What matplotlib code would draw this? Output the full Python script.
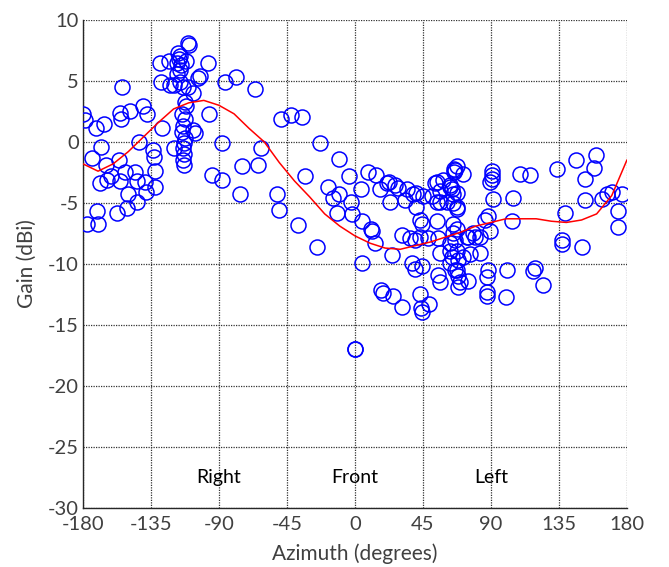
import matplotlib
matplotlib.use("Agg")
import matplotlib.pyplot as plt
import numpy as np

# Measured gain samples (azimuth in degrees, gain in dBi)
azimuth = [
    -180, -178.7, -171.6, -165.9, -167.9, -174.3,
    -154.0, -155.8, -154.8, -148.9, -140.3, -137.6, -142.9,
    -156, -165, -161.5, -164.3, -169, -155.5, -152.5,
    -145.5, -144, -138.7, -132, -132, -133.4, -132.7,
    -150, -138, -144.5, -151, -157.7, -170.9, -169.8, -177.4,
    -129, -123.3, -128.6, -122.4, -119.6, -117, -115.8, -116.5, -115.4, -116, -117.5,
    -110.3, -109.6, -111.5, -118,
    -116, -113.6, -110.8, -107, -104, -102.6, -97,
    -112.5, -111.8, -114.7, -112.5, -113.6, -114.2, -112.5, -107, -105.9,
    -113.2, -113.6, -112.9, -113.6, -113, -119.6, -127.5,
    -96.5, -88, -75, -62.4, -64, -94.7, -88, -76.1,
    -86, -78.8, -66.4,
    -48.8, -42.4, -34.9, -23.2, -10.2, -33.1, -3.8, 8.8, 13.9,
    -17.5, -51.3, -14.3, -10.8, -2.3, 3.8, -50.2, -37.5, -25.4, -11.6, -2.2,
    4.4, 10.4, 11.1, 13.2, 4.4,
    16.5, 21, 22.5, 26.5, 28.7, 34.2, 23.2, 33.1,
    38.6, 40.6, 45.3, 50.8, 54.1, 56.3, 56.3, 60.7, 40.6, 43, 44.1, 54.1,
    65.5, 66.2, 65.8, 67.3, 71.7, 58.4, 53, 62.9, 64, 62.9, 67.3, 65.1, 65.1, 67.3, 54.1, 67.3,
    90.5, 90.5, 90.5, 89.6, 91.6, 104.4, 109.2, 116.2, 133.6, 146.6, 159.5, 158.4,
    152.2, 152.2, 139.2, 163.3, 166.6, 169.9, 176.5, 174.3, 174.3, 136.8, 136.8, 150,
    88.3, 86, 89.3, 104.2,
    65.1, 67.3, 65.1, 66.2, 75, 79.4, 82.7, 76.1, 67.3, 68.4,
    88.3, 87.2, 100.7, 119.1, 118, 124.6, 87.2, 87.2, 99.9,
    67.3, 68.4, 69.5, 68.4, 75,
    30.9, 36.4, 39.7, 43, 48.5, 55.2,
    24.3, 37.5, 39.7, 44.1,
    62.9, 62.9, 64, 62.9, 66.2,
    55.2, 56.3, 56.3,
    17.5, 18.5, 25.4, 31.2, 43, 44, 44.1, 49,
    73.9, 71.7, 78.3, 82.7,
    0, 0,
]
gain = [
    2.3, 1.8, 1.1, 1.5, -0.4, -1.3,
    4.5, 2.4, 1.9, 2.5, 2.9, 2.3, 0.0,
    -1.5, -1.9, -2.8, -3.1, -3.4, -3.2, -2.5,
    -2.5, -3.2, -3.3, -2.4, -3.7, -0.7, -1.2,
    -4.3, -4.1, -4.9, -5.4, -5.8, -5.7, -6.7, -6.7,
    6.5, 6.6, 4.9, 4.7, 4.7, 7.3, 7.0, 6.8, 6.3, 5.9, 5.6,
    8.1, 7.9, 6.6, 6.5,
    4.9, 4.5, 4.5, 4.0, 5.2, 5.4, 6.5,
    3.3, 2.9, 2.3, 1.9, 1.3, 0.8, 0.3, 1.0, 0.7,
    -0.1, -0.5, -1.0, -1.5, -1.9, -0.5, 1.1,
    2.3, -0.1, -2.0, -0.5, -1.9, -2.7, -3.1, -4.3,
    4.9, 5.3, 4.3,
    1.9, 2.2, 2.0, -0.1, -1.4, -2.8, -2.8, -2.5, -2.7,
    -3.7, -4.3, -4.6, -4.3, -4.9, -3.9, -5.6, -6.8, -8.6, -5.8, -5.9,
    -6.5, -7.1, -7.3, -8.3, -9.9,
    -3.9, -3.4, -3.3, -3.5, -3.8, -3.9, -4.9, -4.8,
    -4.3, -4.2, -4.4, -4.4, -3.3, -4.0, -4.9, -4.9, -5.3, -6.4, -6.7, -6.5,
    -2.2, -2.3, -2.5, -2.0, -2.6, -3.1, -3.4, -3.5, -3.9, -3.7, -4.2, -4.3, -5.0, -5.5, -4.9, -5.3,
    -2.4, -2.7, -3.0, -3.3, -4.7, -4.6, -2.6, -2.7, -2.2, -1.5, -1.1, -2.1,
    -3.0, -4.8, -5.8, -4.7, -4.3, -4.1, -4.3, -5.7, -7.0, -8.0, -8.4, -8.6,
    -6.1, -6.4, -7.3, -6.5,
    -6.7, -7.1, -7.5, -8.0, -7.8, -7.8, -9.1, -9.2, -8.9, -9.7,
    -10.5, -11.1, -10.5, -10.3, -10.6, -11.7, -12.3, -12.6, -12.7,
    -10.5, -11.0, -11.5, -11.9, -11.4,
    -7.6, -7.9, -8.0, -7.8, -7.9, -7.9,
    -9.3, -9.9, -10.4, -10.2,
    -8.3, -8.9, -9.4, -9.9, -10.5,
    -10.9, -11.5, -9.1,
    -12.1, -12.4, -12.6, -13.5, -12.5, -13.6, -13.9, -13.3,
    -7.8, -9.4, -7.5, -7.8,
    -17.0, -17.0,
]

# Smoothed gain trend
trend_az = [-180, -170, -160, -150, -140, -130, -120, -110, -100, -90,
            -80, -70, -60, -50, -40, -30, -20, -10, 0, 10,
            20, 30, 40, 50, 60, 70, 80, 90, 100, 110,
            120, 130, 140, 150, 160, 170, 180]
trend_gain = [-1.8, -2.4, -1.8, -0.8, 0.4, 1.6, 2.7, 3.2, 3.4, 3.0,
              2.3, 1.1, 0.0, -1.7, -3.2, -4.5, -5.9, -6.9, -7.7, -8.3,
              -8.7, -8.8, -8.5, -8.2, -7.8, -7.4, -6.9, -6.6, -6.3, -6.3,
              -6.3, -6.5, -6.6, -6.4, -5.9, -4.4, -1.5]

x_ticks = [-180, -135, -90, -45, 0, 45, 90, 135, 180]
y_ticks = [-30, -25, -20, -15, -10, -5, 0, 5, 10]

region_labels = ["Right", "Front", "Left"]
region_az = [-90, 0, 90]

plt.rcParams['font.family'] = ['Lato', 'DejaVu Sans']
plt.rcParams['axes.unicode_minus'] = False
text_gray = '#404040'

fig = plt.figure(figsize=(6.69, 5.67), dpi=100)
ax = fig.add_axes([0.124, 0.104, 0.813, 0.861])

ax.plot(azimuth, gain, linestyle='none', marker='o', markersize=10.8,
        markerfacecolor='none', markeredgecolor='#0000ff', markeredgewidth=1.1,
        zorder=3)
ax.plot(trend_az, trend_gain, color='#ff0000', linewidth=1.1, zorder=4)

for label, az in zip(region_labels, region_az):
    ax.text(az, -27.5, label, ha='center', va='center', fontsize=14, color='black')

ax.set_xlim(-180, 180)
ax.set_ylim(-30, 10)
ax.set_xticks(x_ticks)
ax.set_yticks(y_ticks)
ax.grid(True, color='#333333', linestyle=(0, (1, 1)), linewidth=0.9)
ax.set_axisbelow(True)

for side in ('top', 'right'):
    ax.spines[side].set_visible(False)
for side in ('left', 'bottom'):
    ax.spines[side].set_color('#262626')
    ax.spines[side].set_linewidth(1.0)

ax.tick_params(direction='in', length=0, labelsize=14.5, labelcolor=text_gray)
ax.tick_params(axis='x', pad=6)
ax.tick_params(axis='y', pad=3)
ax.set_xlabel('Azimuth (degrees)', fontsize=15, color=text_gray, labelpad=7)
ax.set_ylabel('Gain (dBi)', fontsize=15, color=text_gray, labelpad=8)

fig.savefig('out.png', dpi=100)
